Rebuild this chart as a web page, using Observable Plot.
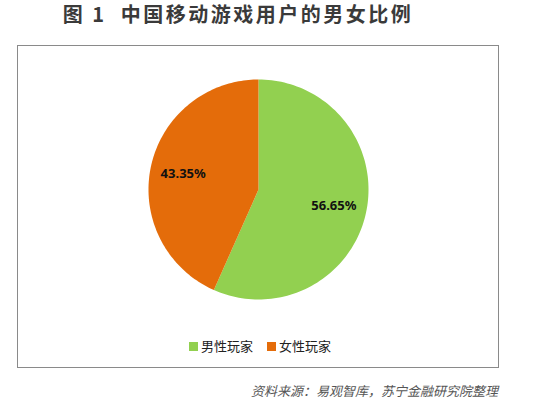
<!DOCTYPE html>
<html><head><meta charset="utf-8">
<script src="https://cdn.jsdelivr.net/npm/d3@7"></script>
<script src="https://cdn.jsdelivr.net/npm/@observablehq/plot@0.6"></script>
<style>
body{margin:0;width:534px;height:404px;position:relative;background:#fff;font-family:"Noto Sans CJK SC","Noto Sans",sans-serif;overflow:hidden}
#title{position:absolute;left:0;width:476px;top:0;text-align:center;font-size:20px;font-weight:bold;color:#3a3a3a;letter-spacing:2.5px;line-height:28px}
#box{position:absolute;left:17px;top:45px;width:480px;height:321px;border:1.5px solid #8a8a8a}
#chart{position:absolute;left:0;top:0}
#legend{position:absolute;left:189px;top:337px;font-size:13px;color:#222;display:flex;gap:14px;line-height:18px}
#legend span.sw{display:inline-block;width:9px;height:9px;margin-right:3px;vertical-align:-0px}
#caption{position:absolute;right:36px;top:381px;font-size:13px;font-style:italic;color:#555}
</style></head>
<body>
<div id="title">图 1&nbsp;&nbsp;中国移动游戏用户的男女比例</div>
<div id="box"></div>
<div id="chart"></div>
<div id="legend"></div>
<div id="caption">资料来源：易观智库，苏宁金融研究院整理</div>
<script>
const categories = ["男性玩家", "女性玩家"];
const values = [56.65, 43.35];
const colors = ["#92D050", "#E46C0A"];
const labels = ["56.65%", "43.35%"];

const arcs = d3.pie().sort(null).value(d => d)(values);
const points = [];
arcs.forEach((a, i) => {
  const n = 120;
  points.push({cat: categories[i], x: 0, y: 0});
  for (let k = 0; k <= n; k++) {
    const t = a.startAngle + (a.endAngle - a.startAngle) * k / n;
    points.push({cat: categories[i], x: Math.sin(t), y: Math.cos(t)});
  }
  points.push({cat: categories[i], x: 0, y: 0});
});
const labelData = arcs.map((a, i) => {
  const m = (a.startAngle + a.endAngle) / 2;
  return {text: labels[i], x: 0.7 * Math.sin(m), y: 0.7 * Math.cos(m)};
});

const plot = Plot.plot({
  width: 534, height: 404,
  marginLeft: 148, marginRight: 166, marginTop: 79, marginBottom: 105,
  x: {domain: [-1, 1], axis: null},
  y: {domain: [-1, 1], axis: null},
  color: {domain: categories, range: colors},
  style: {background: "transparent", overflow: "visible"},
  marks: [
    Plot.line(points, {x: "x", y: "y", z: "cat", fill: "cat", stroke: "none", curve: "linear"}),
    Plot.text(labelData, {x: "x", y: "y", text: "text", fontSize: 13, fontWeight: "bold", fill: "#111", fontFamily: "'Noto Sans','Noto Sans CJK SC',sans-serif"})
  ]
});
document.getElementById("chart").appendChild(plot);

const lg = document.getElementById("legend");
categories.forEach((c, i) => {
  const d = document.createElement("div");
  d.innerHTML = `<span class="sw" style="background:${colors[i]}"></span>${c}`;
  lg.appendChild(d);
});
</script>
</body></html>
